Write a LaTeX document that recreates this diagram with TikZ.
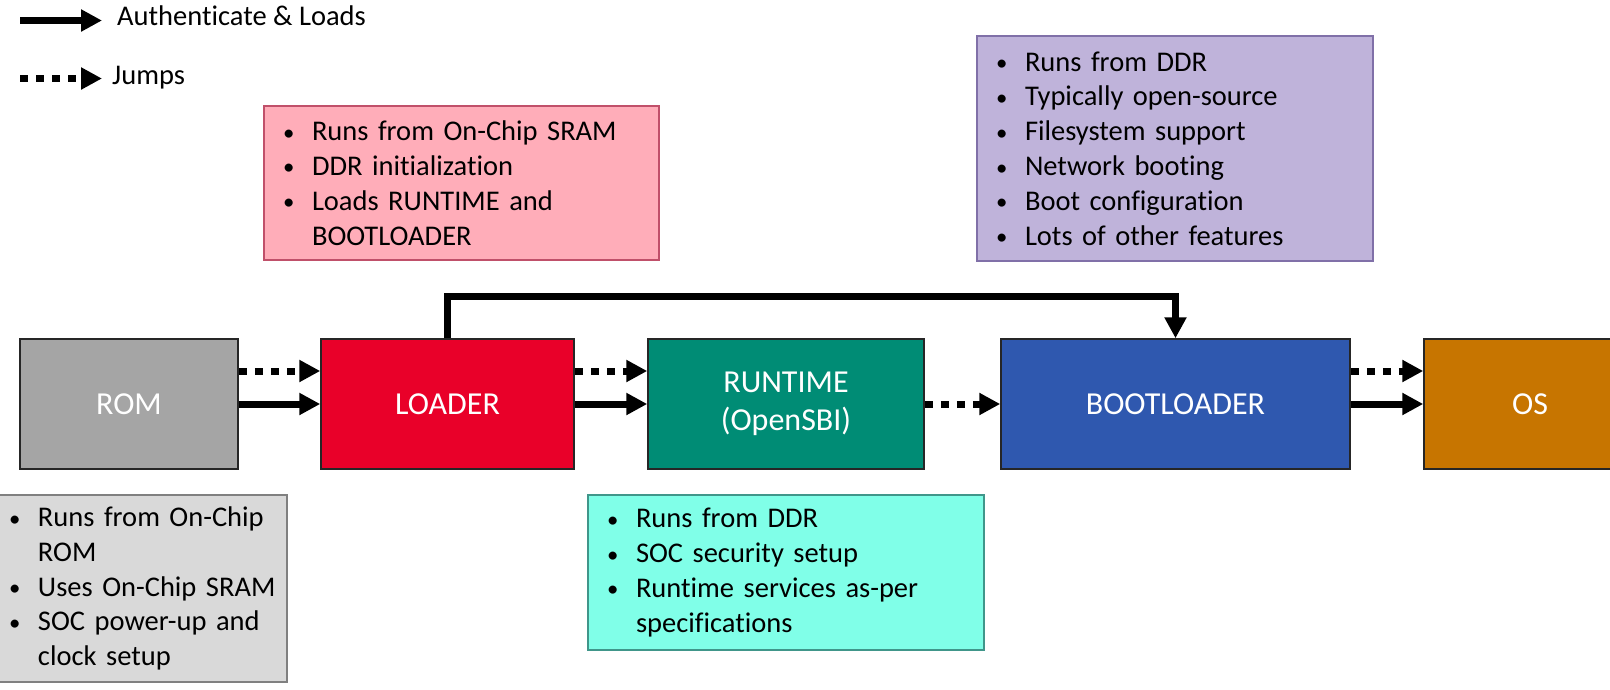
\documentclass[tikz,border=0pt]{standalone}
\usepackage{fontspec}
\setmainfont{Carlito}[Ligatures=NoCommon]
\usetikzlibrary{arrows.meta}

\definecolor{stageedge}{HTML}{262626}
\definecolor{romgray}{HTML}{A5A5A5}
\definecolor{loaderred}{HTML}{E90029}
\definecolor{runteal}{HTML}{008C75}
\definecolor{bootblue}{HTML}{2F58AF}
\definecolor{osorange}{HTML}{C77500}
\definecolor{pinkfill}{HTML}{FFADB9}
\definecolor{pinkedge}{HTML}{C0506A}
\definecolor{purplefill}{HTML}{BFB3DA}
\definecolor{purpleedge}{HTML}{8070A8}
\definecolor{aquafill}{HTML}{80FFE8}
\definecolor{aquaedge}{HTML}{40968A}
\definecolor{greyfill}{HTML}{D9D9D9}
\definecolor{greyedge}{HTML}{808080}

% bullet line and its indented continuation
\newcommand\bitem[1]{\makebox[35pt][l]{\hspace*{6pt}\raisebox{0.5pt}{\scalebox{0.8}{\textbullet}}}\mbox{#1}}
\newcommand\citem[1]{\hspace*{35pt}\mbox{#1}}

\tikzset{
  stage/.style={draw=stageedge, line width=1.5pt, text=white,
    font=\fontsize{32}{38.5}\selectfont, align=center, inner sep=0pt,
    minimum height=130pt},
  note/.style={line width=1.5pt, align=left, inner xsep=13pt, inner ysep=0pt,
    font=\fontsize{28.5}{34.8}\selectfont},
  legendtext/.style={font=\fontsize{28.5}{34}\selectfont, inner sep=0pt},
  loads/.style={line width=7pt, -{Triangle[length=21pt,width=21pt]}},
  jumps/.style={line width=7pt, dash pattern=on 8pt off 8pt,
    -{Triangle[length=21pt,width=21pt]}},
}

\begin{document}
\begin{tikzpicture}[x=1pt,y=-1pt]
  \useasboundingbox (0,0) rectangle (1610,689);
  \fill[white] (0,0) rectangle (1610,689);

  % legend
  \coordinate (la0) at (20,20.5);
  \coordinate (la1) at (102,20.5);
  \draw[loads] (la0) -- (la1);
  \node[legendtext, anchor=base west] (lloads) at (117,25) {Authenticate \& Loads};
  \coordinate (lj0) at (20,78.5);
  \coordinate (lj1) at (102,78.5);
  \draw[jumps] (lj0) -- (lj1);
  \node[legendtext, anchor=base west] (ljumps) at (112,84) {Jumps};

  % boot stages
  \node[stage, fill=romgray, minimum width=218pt] (rom) at (129,404) {ROM};
  \node[stage, fill=loaderred, minimum width=253pt] (loader) at (447.5,404) {LOADER};
  \node[stage, fill=runteal, minimum width=276pt] (runtime) at (786,404) {RUNTIME\\(OpenSBI)};
  \node[stage, fill=bootblue, minimum width=349pt] (boot) at (1175.5,404) {BOOTLOADER};
  \node[stage, fill=osorange, minimum width=212pt] (os) at (1530,404) {OS};

  % stage descriptions
  \node[note, draw=pinkedge, fill=pinkfill, minimum width=395pt, minimum height=154pt,
        text width=369pt] (loadernote) at (461.5,183)
    {\bitem{Runs from On-Chip SRAM}\\ \bitem{DDR initialization}\\
     \bitem{Loads RUNTIME and}\\ \citem{BOOTLOADER}};
  \node[note, draw=purpleedge, fill=purplefill, minimum width=396pt, minimum height=225pt,
        text width=370pt] (bootnote) at (1175,148.5)
    {\bitem{Runs from DDR}\\ \bitem{Typically open-source}\\
     \bitem{Filesystem support}\\ \bitem{Network booting}\\
     \bitem{Boot configuration}\\ \bitem{Lots of other features}};
  \node[note, draw=aquaedge, fill=aquafill, minimum width=396pt, minimum height=155pt,
        text width=370pt] (runtimenote) at (786,572.5)
    {\bitem{Runs from DDR}\\ \bitem{SOC security setup}\\
     \bitem{Runtime services as-per}\\ \citem{specifications}};
  \node[note, draw=greyedge, fill=greyfill, minimum width=297pt, minimum height=187pt,
        text width=271pt] (romnote) at (138.5,588.5)
    {\bitem{Runs from On-Chip}\\ \citem{ROM}\\ \bitem{Uses On-Chip SRAM}\\
     \bitem{SOC power-up and}\\ \citem{clock setup}};

  % jumps
  \draw[jumps] ([yshift=33pt]rom.east) -- ([yshift=33pt]loader.west);
  \draw[jumps] ([yshift=33pt]loader.east) -- ([yshift=33pt]runtime.west);
  \draw[jumps] (runtime.east) -- (boot.west);
  \draw[jumps] ([yshift=33pt]boot.east) -- ([yshift=33pt]os.west);

  % authenticate & load
  \draw[loads] (rom.east) -- (loader.west);
  \draw[loads] (loader.east) -- (runtime.west);
  \draw[loads] (boot.east) -- (os.west);
  \draw[loads] (loader.north) -- (loader.north |- 0,296) -| (boot.north);
\end{tikzpicture}
\end{document}
